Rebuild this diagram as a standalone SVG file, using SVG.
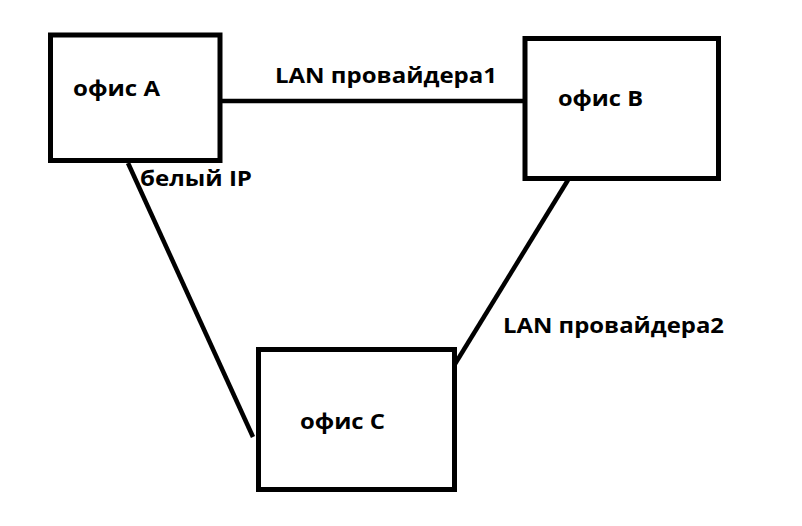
<svg xmlns="http://www.w3.org/2000/svg" width="802" height="526" viewBox="0 0 802 526">
<style>
.box{fill:#fff;stroke:#000;stroke-width:5}
.ln{stroke:#000;stroke-width:4.5;fill:none}
text{font-family:"Open Sans","Noto Sans","Liberation Sans",sans-serif;font-weight:bold;font-size:22px;fill:#000}
</style>
<rect width="802" height="526" fill="#fff"/>
<g id="connectors">
<line class="ln" x1="219" y1="101" x2="529" y2="101"/>
<line class="ln" x1="128" y1="163" x2="253" y2="437"/>
<line class="ln" x1="568" y1="180" x2="455" y2="364"/>
</g>
<g id="officeA"><rect class="box" x="50.5" y="35" width="169.5" height="125.5"/><text x="73" y="96" textLength="87" lengthAdjust="spacingAndGlyphs">офис А</text></g>
<g id="officeB"><rect class="box" x="525" y="38.5" width="193.5" height="140"/><text x="558" y="106" textLength="85" lengthAdjust="spacingAndGlyphs">офис В</text></g>
<g id="officeC"><rect class="box" x="258.5" y="349.5" width="196" height="140"/><text x="300" y="429" textLength="85" lengthAdjust="spacingAndGlyphs">офис С</text></g>
<g id="labels">
<text x="275" y="83" textLength="222" lengthAdjust="spacingAndGlyphs">LAN провайдера1</text>
<text x="140" y="186" textLength="112" lengthAdjust="spacingAndGlyphs">белый IP</text>
<text x="503" y="333" textLength="221" lengthAdjust="spacingAndGlyphs">LAN провайдера2</text>
</g>
</svg>
